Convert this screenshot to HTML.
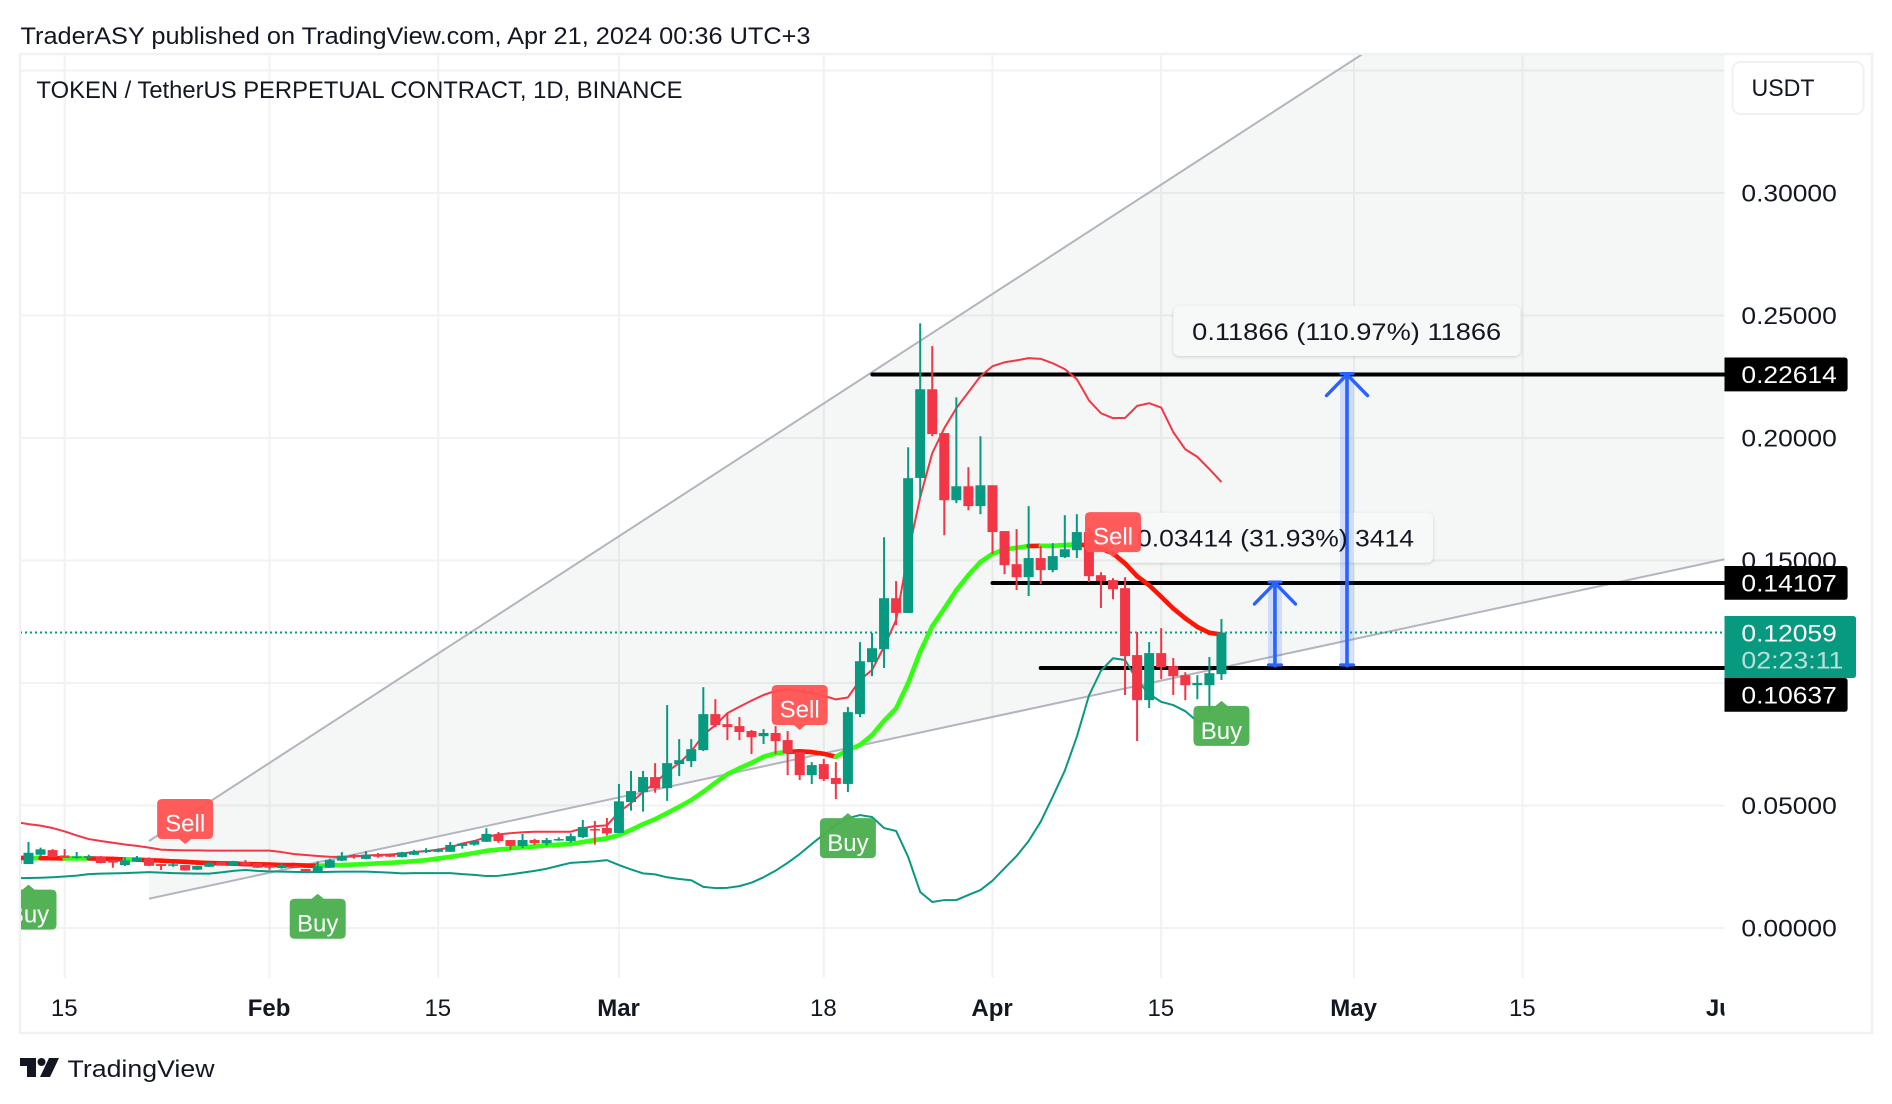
<!DOCTYPE html>
<html lang="en">
<head>
<meta charset="utf-8">
<title>TOKEN / TetherUS Perpetual Contract chart</title>
<style>
html,body{margin:0;padding:0;background:#fff;width:1892px;height:1104px;overflow:hidden}
svg{display:block;font-family:"Liberation Sans",sans-serif}
text{fill:#131722;font-size:24px}
</style>
</head>
<body>
<svg id="chart" width="1892" height="1104" viewBox="0 0 1892 1104">
  <defs>
    <clipPath id="plot-clip"><rect x="21" y="55" width="1703.5" height="923"></rect></clipPath>
    <clipPath id="time-clip"><rect x="21" y="978" width="1703.5" height="54"></rect></clipPath>
  </defs>
  <rect x="0" y="0" width="1892" height="1104" fill="#ffffff"></rect>
  <text x="20.5" y="44" textLength="790" lengthAdjust="spacingAndGlyphs">TraderASY published on TradingView.com, Apr 21, 2024 00:36 UTC+3</text>
  <rect x="20" y="54" width="1852" height="979" fill="#ffffff" stroke="#f0f1f3" stroke-width="2.5"></rect>
  <g id="grid"></g>
  <g id="plot" clip-path="url(#plot-clip)"></g>
  <g id="time-axis" clip-path="url(#time-clip)"></g>
  <g id="price-axis"></g>
  <text x="36.5" y="98" textLength="646" lengthAdjust="spacingAndGlyphs">TOKEN / TetherUS PERPETUAL CONTRACT, 1D, BINANCE</text>
  <g>
    <rect x="1732.5" y="62" width="131" height="52" rx="8" fill="#ffffff" stroke="#f0f1f3" stroke-width="2"></rect>
    <text x="1751.5" y="96" textLength="63" lengthAdjust="spacingAndGlyphs">USDT</text>
  </g>
  <g>
    <path d="M20 1058H36V1077H27V1066H20Z" fill="#131722"></path>
    <circle cx="41.5" cy="1062" r="4" fill="#131722"></circle>
    <path d="M49 1058H59L50 1077H40Z" fill="#131722"></path>
    <text x="67.5" y="1077" textLength="147" lengthAdjust="spacingAndGlyphs">TradingView</text>
  </g>
</svg>
<script>
const categories = ['Jan 11','Jan 12','Jan 13','Jan 14','Jan 15','Jan 16','Jan 17','Jan 18','Jan 19','Jan 20','Jan 21','Jan 22','Jan 23','Jan 24','Jan 25','Jan 26','Jan 27','Jan 28','Jan 29','Jan 30','Jan 31',
'Feb 1','Feb 2','Feb 3','Feb 4','Feb 5','Feb 6','Feb 7','Feb 8','Feb 9','Feb 10','Feb 11','Feb 12','Feb 13','Feb 14','Feb 15','Feb 16','Feb 17','Feb 18','Feb 19','Feb 20','Feb 21','Feb 22','Feb 23','Feb 24','Feb 25','Feb 26','Feb 27','Feb 28','Feb 29',
'Mar 1','Mar 2','Mar 3','Mar 4','Mar 5','Mar 6','Mar 7','Mar 8','Mar 9','Mar 10','Mar 11','Mar 12','Mar 13','Mar 14','Mar 15','Mar 16','Mar 17','Mar 18','Mar 19','Mar 20','Mar 21','Mar 22','Mar 23','Mar 24','Mar 25','Mar 26','Mar 27','Mar 28','Mar 29','Mar 30','Mar 31',
'Apr 1','Apr 2','Apr 3','Apr 4','Apr 5','Apr 6','Apr 7','Apr 8','Apr 9','Apr 10','Apr 11','Apr 12','Apr 13','Apr 14','Apr 15','Apr 16','Apr 17','Apr 18','Apr 19','Apr 20'];
const opens = [.0286,
.0261,.0299,.0318,.0296,.0286,.0286,.0292,.0278,.0257,.0271,
.0286,.0261,.0254,.0257,.0238,.0250,.0270,.0254,.0270,.0264,
.0258,.0245,.0253,.0241,.0228,.0246,.0275,.0298,.0282,.0299,
.0302,.0290,.0299,.0310,.0311,.0311,.0335,.0340,.0352,.0382,
.0359,.0335,.0359,.0346,.0359,.0355,.0371,.0404,.0408,.0388,
.0514,.0555,.0616,.0571,.0669,.0681,.0726,.0873,.0832,.0824,
.0804,.0783,.0796,.0767,.0718,.0624,.0669,.0612,.0588,.0873,
.1085,.1138,.1346,.1286,.1837,.2199,.2020,.1746,.1803,.1722,
.1807,.1620,.1485,.1432,.1510,.1461,.1514,.1542,.1616,.1440,
.1420,.1387,.1114,.0930,.1122,.1069,.1032,.0991,.0991,.1036];
const highs = [.0286,
.0351,.0328,.0322,.0322,.0310,.0299,.0294,.0278,.0288,.0294,
.0288,.0261,.0263,.0257,.0254,.0270,.0270,.0274,.0277,.0265,
.0258,.0266,.0253,.0241,.0272,.0283,.0310,.0302,.0314,.0306,
.0304,.0311,.0319,.0326,.0325,.0351,.0347,.0359,.0407,.0392,
.0359,.0384,.0364,.0367,.0370,.0386,.0441,.0437,.0449,.0588,
.0641,.0641,.0673,.0910,.0771,.0771,.0983,.0934,.0873,.0861,
.0808,.0812,.0824,.0804,.0718,.0677,.0690,.0677,.0902,.1167,
.1204,.1595,.1416,.1962,.2468,.2375,.2020,.2166,.1881,.2007,
.1807,.1620,.1628,.1722,.1559,.1571,.1685,.1689,.1636,.1452,
.1428,.1432,.1208,.1167,.1224,.1102,.1044,.1032,.1106,.1261];
const lows = [.0261,
.0261,.0294,.0289,.0286,.0283,.0282,.0264,.0246,.0253,.0269,
.0253,.0237,.0250,.0234,.0237,.0249,.0255,.0253,.0253,.0245,
.0237,.0242,.0245,.0231,.0226,.0245,.0273,.0283,.0280,.0287,
.0290,.0288,.0298,.0306,.0309,.0310,.0324,.0336,.0351,.0348,
.0319,.0326,.0339,.0336,.0356,.0348,.0367,.0340,.0377,.0388,
.0479,.0475,.0552,.0519,.0620,.0657,.0722,.0820,.0767,.0767,
.0710,.0751,.0710,.0624,.0604,.0588,.0600,.0526,.0555,.0861,
.1028,.1061,.1236,.1286,.1758,.2007,.1603,.1734,.1705,.1689,
.1526,.1444,.1379,.1355,.1404,.1452,.1510,.1510,.1412,.1306,
.1342,.0951,.0763,.0898,.1016,.0951,.0930,.0934,.0881,.1012];
const closes = [.0261,
.0307,.0321,.0289,.0286,.0292,.0293,.0265,.0267,.0276,.0288,
.0254,.0253,.0260,.0235,.0253,.0266,.0257,.0273,.0257,.0246,
.0246,.0257,.0245,.0231,.0252,.0277,.0295,.0290,.0299,.0291,
.0291,.0309,.0313,.0317,.0319,.0339,.0345,.0355,.0384,.0355,
.0335,.0359,.0346,.0359,.0363,.0375,.0412,.0400,.0386,.0517,
.0559,.0616,.0570,.0673,.0685,.0730,.0873,.0828,.0820,.0800,
.0779,.0796,.0763,.0714,.0624,.0665,.0608,.0588,.0881,.1089,
.1142,.1346,.1286,.1836,.2199,.2016,.1746,.1803,.1722,.1807,
.1616,.1481,.1432,.1510,.1461,.1518,.1546,.1616,.1436,.1416,
.1383,.1110,.0930,.1122,.1065,.1028,.0991,.1000,.1040,.12059];
const upperBand = [.0432,
.0424,.0418,.0408,.0394,.0378,.0363,.0355,.0348,.0341,.0335,
.0328,.0320,.0318,.0317,.0317,.0316,.0316,.0316,.0316,.0316,
.0316,.0310,.0302,.0298,.0294,.0291,.0290,.0292,.0296,.0298,
.0300,.0304,.0310,.0314,.0320,.0329,.0345,.0355,.0371,.0382,
.0387,.0391,.0393,.0393,.0393,.0393,.0407,.0416,.0419,.0473,
.0510,.0556,.0592,.0638,.0673,.0720,.0788,.0828,.0877,.0903,
.0928,.0951,.0968,.0974,.0968,.0959,.0948,.0933,.0941,.1012,
.1053,.1148,.1257,.1530,.1758,.1938,.2040,.2122,.2187,.2252,
.2293,.2309,.2317,.2326,.2323,.2305,.2281,.2240,.2154,.2101,
.2081,.2082,.2131,.2142,.2124,.2024,.1954,.1923,.1873,.1820];
const lowerBand = [.0203,
.0204,.0205,.0207,.0210,.0214,.0220,.0222,.0223,.0224,.0226,
.0228,.0226,.0224,.0223,.0222,.0222,.0227,.0233,.0237,.0233,
.0231,.0230,.0229,.0228,.0228,.0229,.0230,.0230,.0230,.0228,
.0226,.0223,.0224,.0224,.0224,.0224,.0220,.0217,.0212,.0213,
.0219,.0226,.0233,.0242,.0254,.0266,.0269,.0272,.0277,.0257,
.0239,.0223,.0219,.0207,.0200,.0195,.0168,.0163,.0164,.0171,
.0185,.0207,.0234,.0266,.0302,.0343,.0382,.0420,.0448,.0461,
.0453,.0408,.0396,.0290,.0147,.0106,.0114,.0114,.0135,.0155,
.0193,.0244,.0294,.0355,.0434,.0536,.0642,.0781,.0948,.1050,
.1101,.1094,.1012,.0955,.0923,.0910,.0885,.0843,.0821,.0821];
const trendLine = [.0286,
.0286,.0285,.0285,.0284,.0284,.0284,.0283,.0282,.0280,.0279,
.0277,.0275,.0272,.0270,.0267,.0265,.0264,.0263,.0261,.0260,
.0259,.0257,.0257,.0255,.0254,.0256,.0257,.0259,.0261,.0264,
.0266,.0269,.0273,.0277,.0284,.0290,.0298,.0306,.0315,.0320,
.0325,.0329,.0333,.0337,.0340,.0343,.0351,.0359,.0366,.0379,
.0400,.0424,.0444,.0469,.0495,.0522,.0556,.0593,.0628,.0652,
.0674,.0699,.0713,.0719,.0721,.0718,.0711,.0699,.0726,.0747,
.0787,.0846,.0896,.1000,.1127,.1232,.1304,.1379,.1440,.1494,
.1527,.1545,.1552,.1559,.1560,.1560,.1563,.1566,.1561,.1549,
.1529,.1488,.1436,.1399,.1352,.1304,.1264,.1229,.1205,.1198];
const trendDir = [-1,
-1,1,-1,-1,1,1,-1,-1,-1,1,
-1,-1,-1,-1,-1,-1,-1,-1,-1,-1,
-1,-1,-1,-1,-1,1,1,1,1,1,
1,1,1,1,1,1,1,1,1,1,
1,1,1,1,1,1,1,1,1,1,
1,1,1,1,1,1,1,1,1,1,
1,1,1,1,-1,-1,-1,-1,1,1,
1,1,1,1,1,1,1,1,1,1,
1,1,1,1,-1,1,1,1,-1,-1,
-1,-1,-1,-1,-1,-1,-1,-1,-1,-1];
const priceTicks = [0,.05,.1,.15,.2,.25,.3,.35];
const priceTickLabels = ['0.00000','0.05000','','0.15000','0.20000','0.25000','0.30000',''];
const timeTickIndex = [4,21,35,50,67,81,95,111,125,142];
const timeTickLabels = ['15','Feb','15','Mar','18','Apr','15','May','15','Jun'];
const timeTickBold = [0,1,0,1,0,1,0,1,0,1];
const levelPrices = [.22614,.14107,.10637];
const levelStartIndex = [71.03,81,85];
const channelUpperIndex = [11,111.7];
const channelUpperPrice = [.0355,.3567];
const channelLowerIndex = [11,141.75];
const channelLowerPrice = [.01196,.1505];
const arrowIndex = [104.44,110.42];
const arrowFrom = [.10637,.10637];
const arrowTo = [.14107,.22614];
const buyIndex = [1,25,69,100];
const buyPrice = [.0177,.0140,.0469,.0927];
const sellIndex = [14,65,91];
const sellPrice = [.0343,.0808,.1514];
const countdownText = '02:23:11';

const SVG_NS = 'http://www.w3.org/2000/svg';
const UP = '#089981', DOWN = '#F23645', PLOT_RIGHT = 1724.5, PLOT_TOP = 54, PLOT_BOTTOM = 978, PLOT_LEFT = 20;
function xScale(i){ return 16.45 + 12.05 * i; }
function yScale(p){ return 928 - 2450 * p; }
function make(tag, attrs, parent){
  const n = document.createElementNS(SVG_NS, tag);
  for (const k in attrs) n.setAttribute(k, attrs[k]);
  parent.appendChild(n);
  return n;
}
const grid = document.getElementById('grid');
const plot = document.getElementById('plot');
const timeAxis = document.getElementById('time-axis');
const priceAxis = document.getElementById('price-axis');

/* grid */
priceTicks.forEach(function(p){
  const l = make('line', {x1:PLOT_LEFT, x2:PLOT_RIGHT, y1:yScale(p), y2:yScale(p), stroke:'#f1f2f3', 'stroke-width':2}, grid);
  
  
});
timeTickIndex.forEach(function(i){
  if (xScale(i) > PLOT_RIGHT) return;
  const l = make('line', {x1:xScale(i), x2:xScale(i), y1:PLOT_TOP, y2:PLOT_BOTTOM, stroke:'#f1f2f3', 'stroke-width':2}, grid);
  
  
});

/* channel fill and trend lines */
const chFill = make('path', {
  d: 'M'+xScale(channelUpperIndex[0])+' '+yScale(channelUpperPrice[0])+
     'L'+xScale(channelUpperIndex[1])+' '+yScale(channelUpperPrice[1])+
     'L'+PLOT_RIGHT+' '+PLOT_TOP+
     'L'+xScale(channelLowerIndex[1])+' '+yScale(channelLowerPrice[1])+
     'L'+xScale(channelLowerIndex[0])+' '+yScale(channelLowerPrice[0])+'Z',
  fill:'rgba(110,135,125,0.07)'}, plot);


const chUp = make('line', {x1:xScale(channelUpperIndex[0]), y1:yScale(channelUpperPrice[0]), x2:xScale(channelUpperIndex[1]), y2:yScale(channelUpperPrice[1]), stroke:'#b2b5be', 'stroke-width':2}, plot);


const chLow = make('line', {x1:xScale(channelLowerIndex[0]), y1:yScale(channelLowerPrice[0]), x2:xScale(channelLowerIndex[1]), y2:yScale(channelLowerPrice[1]), stroke:'#b2b5be', 'stroke-width':2}, plot);



/* measurement label boxes */
const box1 = make('rect', {x:1173.5, y:305.6, width:347, height:50.4, rx:6, fill:'#f7f8f8', style:'filter:drop-shadow(0 1px 1.5px rgba(0,0,0,.16))'}, plot);


const box2 = make('rect', {x:1117, y:512.7, width:316, height:50, rx:6, fill:'#f7f8f8', style:'filter:drop-shadow(0 1px 1.5px rgba(0,0,0,.16))'}, plot);



/* last price dotted line */
const lastClose = closes[closes.length-1];
const lastLine = make('line', {x1:PLOT_LEFT, x2:PLOT_RIGHT, y1:yScale(lastClose), y2:yScale(lastClose), stroke:UP, 'stroke-width':2, 'stroke-dasharray':'2 3'}, plot);



/* horizontal levels */
levelPrices.forEach(function(p, k){
  const l = make('line', {x1:xScale(levelStartIndex[k]), x2:PLOT_RIGHT+10, y1:yScale(p)+0.6, y2:yScale(p)+0.6, stroke:'#000000', 'stroke-width':4, 'stroke-linecap':'round'}, plot);
  
  
});

/* arrows */
arrowIndex.forEach(function(ix,k){
  const x = xScale(ix), y0 = yScale(arrowFrom[k]), y1 = yScale(arrowTo[k])+0.6;
  const g = make('g', {}, plot);
  
  
  const band = make('rect', {x:x-7, y:y1, width:14, height:y0-y1, fill:'rgba(41,98,255,.18)'}, g);
  
  
  const shaft = make('line', {x1:x, x2:x, y1:y0, y2:y1, stroke:'#2962ff', 'stroke-width':3.6}, g);
  
  
  const head = make('polyline', {points:(x-20.5)+','+(y1+21)+' '+x+','+y1+' '+(x+20.5)+','+(y1+21), fill:'none', stroke:'#2962ff', 'stroke-width':3.4, 'stroke-linecap':'round', 'stroke-linejoin':'round'}, g);
  
  
  const capT = make('line', {x1:x-6, x2:x+6, y1:y1-1, y2:y1-1, stroke:'#2962ff', 'stroke-width':3, 'stroke-linecap':'round'}, g);
  
  
  const capB = make('line', {x1:x-6.5, x2:x+6.5, y1:y0-2.5, y2:y0-2.5, stroke:'#2962ff', 'stroke-width':3, 'stroke-linecap':'round'}, g);
  
  
});

/* indicator lines */
function pointsOf(arr){ return arr.map(function(v,i){ return xScale(i)+','+yScale(v); }).join(' '); }
const upLine = make('polyline', {points:pointsOf(upperBand), fill:'none', stroke:DOWN, 'stroke-width':2, 'stroke-linejoin':'round'}, plot);


const loLine = make('polyline', {points:pointsOf(lowerBand), fill:'none', stroke:UP, 'stroke-width':2, 'stroke-linejoin':'round'}, plot);


trendLine.forEach(function(v,i){
  if (i === 0) return;
  const s = make('line', {x1:xScale(i-1), y1:yScale(trendLine[i-1]), x2:xScale(i), y2:yScale(v), stroke: trendDir[i] > 0 ? '#33ff11' : '#ff1505', 'stroke-width':4.6, 'stroke-linecap':'round'}, plot);
  
  
});

/* candles */
opens.forEach(function(o,i){
  const c = closes[i], col = c >= o ? UP : DOWN, x = xScale(i);
  const g = make('g', {fill:col}, plot);
  
  
  const w = make('rect', {x:x-1, width:2, y:yScale(highs[i]), height:Math.max(1, yScale(lows[i])-yScale(highs[i]))}, g);
  
  
  const top = yScale(Math.max(o,c)), h = Math.max(1.5, yScale(Math.min(o,c))-top);
  const b = make('rect', {x:x-5, width:10, y:top, height:h}, g);
  
  
});

/* measurement text */
const m1 = make('text', {x:1192.2, y:340, textLength:309, lengthAdjust:'spacingAndGlyphs'}, plot);
m1.textContent = '0.11866 (110.97%) 11866';


const m2 = make('text', {x:1137, y:546.7, textLength:277, lengthAdjust:'spacingAndGlyphs'}, plot);
m2.textContent = '0.03414 (31.93%) 3414';



/* signal badges */
buyIndex.forEach(function(ix,k){
  const x = xScale(ix), t = yScale(buyPrice[k]);
  const p = make('path', {d:'M'+x+' '+t+'L'+(x+6)+' '+(t+5)+'H'+(x+23)+'Q'+(x+28)+' '+(t+5)+' '+(x+28)+' '+(t+10)+'V'+(t+40)+'Q'+(x+28)+' '+(t+45)+' '+(x+23)+' '+(t+45)+'H'+(x-23)+'Q'+(x-28)+' '+(t+45)+' '+(x-28)+' '+(t+40)+'V'+(t+10)+'Q'+(x-28)+' '+(t+5)+' '+(x-23)+' '+(t+5)+'H'+(x-6)+'Z', fill:'#4CAF50', 'fill-opacity':.97}, plot);
  
  
  const tx = make('text', {x:x, y:t+38, 'text-anchor':'middle', style:'fill:#fff'}, plot);
  tx.textContent = 'Buy';
  
  
});
sellIndex.forEach(function(ix,k){
  const x = xScale(ix), t = yScale(sellPrice[k]);
  const p = make('path', {d:'M'+x+' '+t+'L'+(x+6)+' '+(t-5)+'H'+(x+23)+'Q'+(x+28)+' '+(t-5)+' '+(x+28)+' '+(t-10)+'V'+(t-40)+'Q'+(x+28)+' '+(t-45)+' '+(x+23)+' '+(t-45)+'H'+(x-23)+'Q'+(x-28)+' '+(t-45)+' '+(x-28)+' '+(t-40)+'V'+(t-10)+'Q'+(x-28)+' '+(t-5)+' '+(x-23)+' '+(t-5)+'H'+(x-6)+'Z', fill:'#FF5252', 'fill-opacity':.95}, plot);
  
  
  const tx = make('text', {x:x, y:t-12.4, 'text-anchor':'middle', style:'fill:#fff'}, plot);
  tx.textContent = 'Sell';
  
  
});

/* time axis */
timeTickIndex.forEach(function(i,k){
  const t = make('text', {x:xScale(i)-0.4, y:1016, 'text-anchor':'middle', 'font-weight':timeTickBold[k] ? 'bold' : 'normal'}, timeAxis);
  t.textContent = timeTickLabels[k];
  
  
});

/* price axis */
priceTicks.forEach(function(p,k){
  if (!priceTickLabels[k]) return;
  const t = make('text', {x:1741.4, y:yScale(p)+8.6, textLength:95.4, lengthAdjust:'spacingAndGlyphs'}, priceAxis);
  t.textContent = priceTickLabels[k];
  
  
});
function tagPath(x0,x1,y0,y1){
  const r = 3;
  return 'M'+x0+' '+y0+'H'+(x1-r)+'Q'+x1+' '+y0+' '+x1+' '+(y0+r)+'V'+(y1-r)+'Q'+x1+' '+y1+' '+(x1-r)+' '+y1+'H'+x0+'Z';
}
const lastY = yScale(lastClose), greenTop = lastY-16.6, greenBottom = lastY+45.4;
levelPrices.forEach(function(p){
  const h = 33.8;
  let top = yScale(p)-16.4;
  if (top < greenBottom && top+h > greenTop) top = greenBottom;
  const b = make('path', {d:tagPath(1724.5,1847.6,top,top+h), fill:'#000000'}, priceAxis);
  
  
  const t = make('text', {x:1741.4, y:top+25.6, textLength:95.4, lengthAdjust:'spacingAndGlyphs', style:'fill:#fff'}, priceAxis);
  t.textContent = p.toFixed(5);
  
  
});
const greenTag = make('path', {d:tagPath(1724.5,1856,greenTop,greenBottom), fill:UP}, priceAxis);


const lastText = make('text', {x:1741.4, y:lastY+9, textLength:95.4, lengthAdjust:'spacingAndGlyphs', style:'fill:#fff'}, priceAxis);
lastText.textContent = lastClose.toFixed(5);


const cdText = make('text', {x:1741.4, y:lastY+36, textLength:102, lengthAdjust:'spacingAndGlyphs', style:'fill:rgba(255,255,255,.7)'}, priceAxis);
cdText.textContent = countdownText;


</script>
</body>
</html>
